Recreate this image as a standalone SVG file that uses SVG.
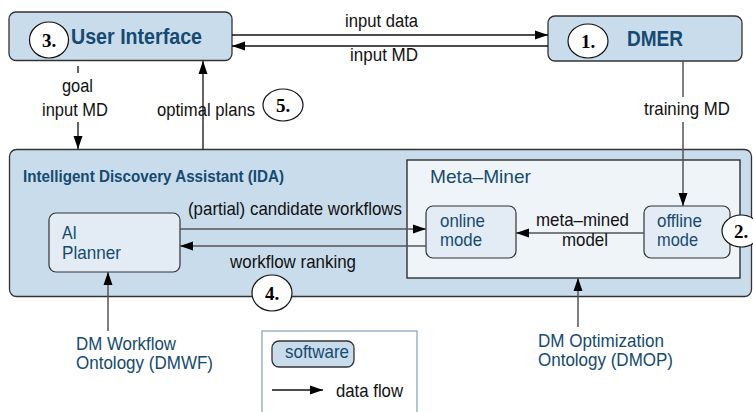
<svg xmlns="http://www.w3.org/2000/svg" width="753" height="412" viewBox="0 0 753 412">
<defs>
<marker id="ah" markerUnits="userSpaceOnUse" markerWidth="14" markerHeight="10" refX="13" refY="5" orient="auto">
<path d="M0,0.5 L13,5 L0,9.5 z" fill="#000"/>
</marker>
<style>
.box{fill:#c9dcec;stroke:#333;stroke-width:1.3}
.sub{fill:#e3ecf5;stroke:#333;stroke-width:1.2}
.mm{fill:#eff4f9;stroke:#222;stroke-width:1.3}
text{font-family:"Liberation Sans",Arial,sans-serif}
.t{font-size:19px;fill:#111}
.bt{font-size:19px;fill:#164a70}
.title{font-weight:bold;fill:#164a70}
.num{font-family:"Liberation Serif","Times New Roman",serif;font-weight:bold;font-size:19px;fill:#000;text-anchor:middle}
.nc{fill:#fff;stroke:#111;stroke-width:1.2}
.c{stroke:#111;stroke-width:1.3;fill:none}
.cg{stroke:#555;stroke-width:1.5;fill:none}
</style>
</defs>

<g id="ida">
<rect class="box" x="9.5" y="149.5" width="742" height="147" rx="7"/>
<text class="title" x="23" y="182" font-size="16.5" textLength="261" lengthAdjust="spacingAndGlyphs">Intelligent Discovery Assistant (IDA)</text>
</g>

<g id="meta-miner">
<rect class="mm" x="407" y="160" width="333" height="118"/>
<text class="bt" x="430" y="183" font-size="21" textLength="101" lengthAdjust="spacingAndGlyphs">Meta–Miner</text>
</g>

<g id="user-interface">
<rect class="box" x="9" y="12" width="223" height="48.5" rx="7"/>
<text class="title" x="71" y="44" font-size="21.5" textLength="131" lengthAdjust="spacingAndGlyphs">User Interface</text>
</g>

<g id="dmer">
<rect class="box" x="548" y="16" width="194" height="45" rx="7"/>
<text class="title" x="627" y="46" font-size="21.5" textLength="56" lengthAdjust="spacingAndGlyphs">DMER</text>
</g>

<g id="ai-planner">
<rect class="sub" x="49" y="213" width="131" height="59" rx="7"/>
<text class="bt" x="62" y="239" textLength="15" lengthAdjust="spacingAndGlyphs">AI</text>
<text class="bt" x="62" y="259" textLength="59" lengthAdjust="spacingAndGlyphs">Planner</text>
</g>

<g id="online-mode">
<rect class="sub" x="426" y="206" width="90" height="52" rx="7"/>
<text class="bt" x="440" y="227" textLength="45" lengthAdjust="spacingAndGlyphs">online</text>
<text class="bt" x="440" y="246" textLength="42" lengthAdjust="spacingAndGlyphs">mode</text>
</g>

<g id="offline-mode">
<rect class="sub" x="644" y="206" width="86" height="52" rx="7"/>
<text class="bt" x="657" y="227" textLength="45" lengthAdjust="spacingAndGlyphs">offline</text>
<text class="bt" x="657" y="246" textLength="41" lengthAdjust="spacingAndGlyphs">mode</text>
</g>

<g id="connectors">
<line class="c" x1="232" y1="35" x2="548" y2="35" marker-end="url(#ah)"/>
<line class="c" x1="548" y1="46" x2="232" y2="46" marker-end="url(#ah)"/>
<line class="c" x1="78" y1="66" x2="78" y2="73"/>
<line class="c" x1="78" y1="122" x2="78" y2="149" marker-end="url(#ah)"/>
<line class="c" x1="203" y1="149" x2="203" y2="61" marker-end="url(#ah)"/>
<line class="cg" x1="683" y1="61" x2="683" y2="97"/>
<line class="cg" x1="683" y1="122" x2="683" y2="206" marker-end="url(#ah)"/>
<line class="cg" x1="180" y1="229" x2="426" y2="229" marker-end="url(#ah)"/>
<line class="cg" x1="426" y1="246" x2="180" y2="246" marker-end="url(#ah)"/>
<line class="cg" x1="644" y1="233" x2="516" y2="233" marker-end="url(#ah)"/>
<line class="cg" x1="108" y1="331" x2="108" y2="272" marker-end="url(#ah)"/>
<line class="cg" x1="578" y1="327" x2="578" y2="278" marker-end="url(#ah)"/>
<text class="t" x="345" y="27" textLength="73" lengthAdjust="spacingAndGlyphs">input data</text>
<text class="t" x="350" y="61" textLength="68" lengthAdjust="spacingAndGlyphs">input MD</text>
<text class="t" x="62" y="92" textLength="31" lengthAdjust="spacingAndGlyphs">goal</text>
<text class="t" x="42" y="116" textLength="66" lengthAdjust="spacingAndGlyphs">input MD</text>
<text class="t" x="157" y="116" textLength="98" lengthAdjust="spacingAndGlyphs">optimal plans</text>
<text class="t" x="644" y="115" textLength="86" lengthAdjust="spacingAndGlyphs">training MD</text>
<text class="t" x="188" y="215" textLength="214" lengthAdjust="spacingAndGlyphs">(partial) candidate workflows</text>
<text class="t" x="230" y="268" textLength="126" lengthAdjust="spacingAndGlyphs">workflow ranking</text>
<text class="t" x="536" y="226" textLength="93" lengthAdjust="spacingAndGlyphs">meta–mined</text>
<text class="t" x="562" y="246" textLength="46" lengthAdjust="spacingAndGlyphs">model</text>
</g>

<g id="step-numbers">
<ellipse class="nc" cx="49" cy="40" rx="19.5" ry="18"/>
<text class="num" x="49" y="47">3.</text>
<ellipse class="nc" cx="588" cy="41" rx="20" ry="17"/>
<text class="num" x="588" y="48">1.</text>
<ellipse class="nc" cx="283" cy="105" rx="20" ry="16"/>
<text class="num" x="283" y="112">5.</text>
<ellipse class="nc" cx="741" cy="231" rx="19" ry="16"/>
<text class="num" x="741" y="238">2.</text>
<ellipse class="nc" cx="272" cy="293" rx="20" ry="18"/>
<text class="num" x="272" y="300">4.</text>
</g>

<g id="dmwf">
<text class="bt" x="76" y="350" font-size="17.5" textLength="100" lengthAdjust="spacingAndGlyphs">DM Workflow</text>
<text class="bt" x="76" y="369" font-size="17.5" textLength="137" lengthAdjust="spacingAndGlyphs">Ontology (DMWF)</text>
</g>

<g id="dmop">
<text class="bt" x="538" y="347" font-size="17.5" textLength="126" lengthAdjust="spacingAndGlyphs">DM Optimization</text>
<text class="bt" x="538" y="366" font-size="17.5" textLength="135" lengthAdjust="spacingAndGlyphs">Ontology (DMOP)</text>
</g>

<g id="legend">
<rect x="262" y="331" width="155" height="95" fill="#fff" stroke="#9fb1c5" stroke-width="1.5"/>
<rect class="box" x="272" y="341" width="82" height="26" rx="7" stroke="#335"/>
<text class="bt" x="285" y="358" font-size="17.5" textLength="64" lengthAdjust="spacingAndGlyphs">software</text>
<line class="c" x1="272" y1="390" x2="323" y2="390" marker-end="url(#ah)"/>
<text class="t" x="336" y="397" textLength="67" lengthAdjust="spacingAndGlyphs">data flow</text>
</g>
</svg>
